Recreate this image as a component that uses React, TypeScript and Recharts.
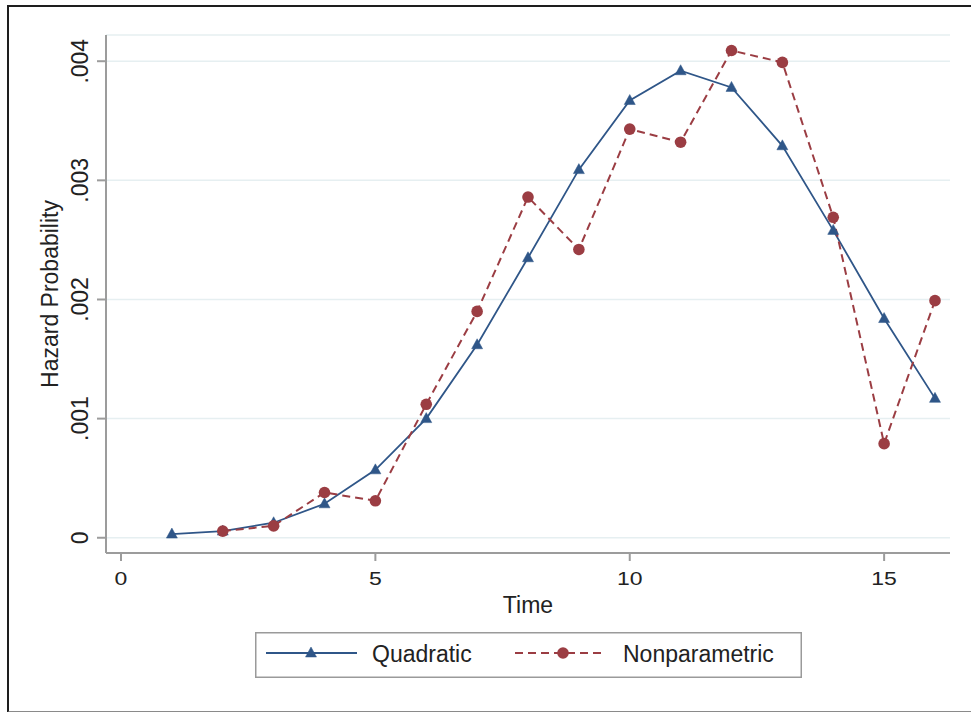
import React from 'react';
import {
  LineChart,
  Line,
  XAxis,
  YAxis,
  CartesianGrid,
  Legend,
} from 'recharts';

// ============================================================================
// Data
// ============================================================================

const TIME = [1, 2, 3, 4, 5, 6, 7, 8, 9, 10, 11, 12, 13, 14, 15, 16];

const QUADRATIC = [
  0.000031, 0.000056, 0.000126, 0.000285, 0.00057, 0.001, 0.00162, 0.00235,
  0.00309, 0.00367, 0.00392, 0.00378, 0.00329, 0.00258, 0.00184, 0.00117,
];

const NONPARAMETRIC: (number | null)[] = [
  null, 0.000056, 0.0001, 0.00038, 0.00031, 0.00112, 0.0019, 0.00286,
  0.00242, 0.00343, 0.00332, 0.00409, 0.00399, 0.00269, 0.00079, 0.00199,
];

const X_TICKS = [0, 5, 10, 15];
const Y_TICKS = [0, 0.001, 0.002, 0.003, 0.004];

const SERIES_LABELS = ['Quadratic', 'Nonparametric'];

// ============================================================================
// Constants
// ============================================================================

const FONT = '"Liberation Sans", Arial, Helvetica, sans-serif';
const BLUE = '#2f5688';
const RED = '#9b3d43';
const AXIS = '#9c9c9c';
const TEXT = '#222';

const chartData = TIME.map((t, i) => ({
  time: t,
  quadratic: QUADRATIC[i],
  nonparametric: NONPARAMETRIC[i],
}));

// ============================================================================
// Helpers
// ============================================================================

function formatY(v: number): string {
  if (v === 0) return '0';
  return v.toFixed(3).replace(/^0/, '');
}

const TriangleDot = (props: any) => {
  const { cx, cy } = props;
  if (cx == null || cy == null) return null;
  return (
    <polygon
      points={`${cx},${cy - 6} ${cx - 5.5},${cy + 4} ${cx + 5.5},${cy + 4}`}
      fill={BLUE}
      stroke={BLUE}
      strokeWidth={0.5}
    />
  );
};

const CircleDot = (props: any) => {
  const { cx, cy, payload } = props;
  if (cx == null || cy == null || payload?.nonparametric == null) return null;
  return <circle cx={cx} cy={cy} r={5.8} fill={RED} stroke="none" />;
};

const YTick = (props: any) => {
  const { y, payload } = props;
  const bx = 88;
  return (
    <text
      x={bx}
      y={y}
      transform={`rotate(-90, ${bx}, ${y})`}
      textAnchor="middle"
      fontSize={23}
      fontFamily={FONT}
      fill={TEXT}
    >
      {formatY(payload.value)}
    </text>
  );
};

const XTick = (props: any) => {
  const { x, payload } = props;
  return (
    <text
      transform={`translate(${x}, 585) scale(1, 0.8)`}
      textAnchor="middle"
      fontSize={23}
      fontFamily={FONT}
      fill={TEXT}
    >
      {payload.value}
    </text>
  );
};

const YTitle = (props: any) => {
  const vb = props.viewBox || {};
  const cy = (vb.y ?? 35) + (vb.height ?? 518) / 2;
  const bx = 58;
  return (
    <text
      x={bx}
      y={cy}
      transform={`rotate(-90, ${bx}, ${cy})`}
      textAnchor="middle"
      fontSize={23}
      fontFamily={FONT}
      fill={TEXT}
    >
      Hazard Probability
    </text>
  );
};

const XTitle = (props: any) => {
  const vb = props.viewBox || {};
  const cx = (vb.x ?? 106) + (vb.width ?? 844) / 2;
  return (
    <text x={cx} y={613} textAnchor="middle" fontSize={23} fontFamily={FONT} fill={TEXT}>
      Time
    </text>
  );
};

const LegendBox = () => (
  <svg width={547} height={46} style={{ display: 'block' }}>
    <rect x={0.75} y={0.75} width={545.5} height={44.5} fill="#fff" stroke="#9a9a9a" strokeWidth={1.5} />
    <line x1={11} x2={102} y1={21} y2={21} stroke={BLUE} strokeWidth={1.8} />
    <TriangleDot cx={56} cy={21} />
    <text x={117} y={30} fontSize={23} fontFamily={FONT} fill={TEXT}>
      {SERIES_LABELS[0]}
    </text>
    <line x1={260} x2={351} y1={21} y2={21} stroke={RED} strokeWidth={2} strokeDasharray="8 5" />
    <circle cx={308} cy={21} r={5.8} fill={RED} />
    <text x={368} y={30} fontSize={23} fontFamily={FONT} fill={TEXT}>
      {SERIES_LABELS[1]}
    </text>
  </svg>
);

// ============================================================================
// Component
// ============================================================================

export default function App() {
  return (
    <div
      style={{
        position: 'absolute',
        left: 0,
        top: 0,
        width: 971,
        height: 712,
        overflow: 'hidden',
        background: '#fff',
      }}
    >
      {/* graph region frame, right edge is cut off in the original */}
      <div
        style={{
          position: 'absolute',
          left: 7,
          top: 5,
          width: 990,
          height: 704,
          borderLeft: '2px solid #1e1e1e',
          borderTop: '2px solid #1e1e1e',
          borderBottom: '2px solid #8a8a8a',
        }}
      />
      <div style={{ position: 'absolute', left: 0, top: 0 }}>
        <LineChart
          width={971}
          height={712}
          data={chartData}
          margin={{ top: 35, right: 21, bottom: 119, left: 0 }}
        >
          <CartesianGrid horizontal vertical={false} stroke="#e6eff1" strokeWidth={1.5} />
          <XAxis
            dataKey="time"
            type="number"
            domain={[-0.295, 16.295]}
            ticks={X_TICKS}
            allowDataOverflow
            height={40}
            tick={<XTick />}
            tickSize={8}
            tickLine={{ stroke: AXIS, strokeWidth: 2 }}
            axisLine={{ stroke: AXIS, strokeWidth: 2 }}
            label={(p: any) => <XTitle {...p} />}
          />
          <YAxis
            type="number"
            domain={[-0.000128, 0.00422]}
            ticks={Y_TICKS}
            allowDataOverflow
            width={106}
            tick={<YTick />}
            tickSize={9}
            tickLine={{ stroke: AXIS, strokeWidth: 2 }}
            axisLine={{ stroke: AXIS, strokeWidth: 2 }}
            label={(p: any) => <YTitle {...p} />}
          />
          <Line
            type="linear"
            dataKey="quadratic"
            name={SERIES_LABELS[0]}
            stroke={BLUE}
            strokeWidth={1.8}
            dot={<TriangleDot />}
            activeDot={false}
            isAnimationActive={false}
          />
          <Line
            type="linear"
            dataKey="nonparametric"
            name={SERIES_LABELS[1]}
            stroke={RED}
            strokeWidth={2}
            strokeDasharray="8 5"
            dot={<CircleDot />}
            activeDot={false}
            isAnimationActive={false}
          />
          <Legend
            layout="horizontal"
            align="center"
            verticalAlign="middle"
            content={() => <LegendBox />}
            wrapperStyle={{ left: 255, top: 632, width: 547, height: 46 }}
          />
        </LineChart>
      </div>
    </div>
  );
}
